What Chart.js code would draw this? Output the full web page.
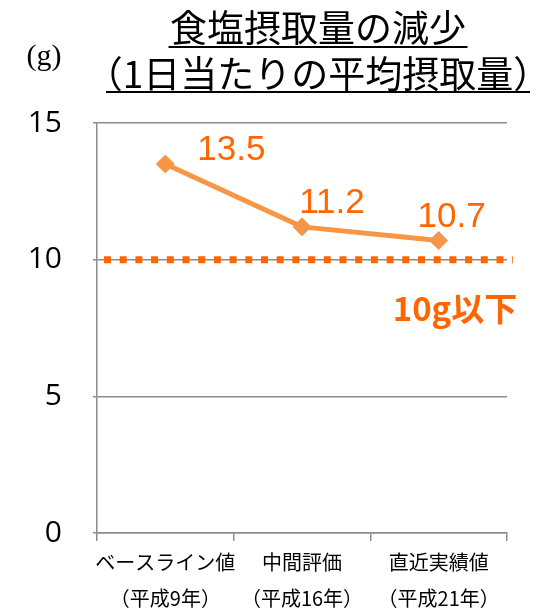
<!DOCTYPE html>
<html>
<head>
<meta charset="utf-8">
<script src="https://cdn.jsdelivr.net/npm/chart.js@4.4.1/dist/chart.umd.min.js"></script>
<style>
  body { margin: 0; background: #fff; }
  #wrap { width: 547px; height: 608px; }
</style>
</head>
<body>
<div id="wrap"><canvas id="salt_chart" width="547" height="608"></canvas></div>
<script>
// data
var categories = [
  ["ベースライン値", "（平成9年）"],
  ["中間評価", "（平成16年）"],
  ["直近実績値", "（平成21年）"],
];
var saltIntake = [13.5, 11.2, 10.7];
var targetValue = 10;
var targetLabel = "10g以下";
var yTicks = [0, 5, 10, 15];
var titleLines = ["食塩摂取量の減少", "（1日当たりの平均摂取量）"];
var unitLabel = "(g)";

var lineColor = "#F79646";
var labelColor = "#FF6600";
var gridColor = "#8c8c8c";

// offsets of the value labels from their points
var labelOffsets = [
  [66, -14],
  [30, -24],
  [13, -23],
];

var decorPlugin = {
  id: "decor",
  beforeDatasetsDraw: function (chart) {
    var ctx = chart.ctx;
    var area = chart.chartArea;
    var y = chart.scales.y.getPixelForValue(targetValue);
    ctx.save();
    ctx.strokeStyle = labelColor;
    ctx.lineWidth = 7;
    ctx.setLineDash([7, 8.7]);
    ctx.beginPath();
    ctx.moveTo(area.left + 7, y);
    ctx.lineTo(area.right + 6, y);
    ctx.stroke();
    ctx.restore();
  },
  afterDatasetsDraw: function (chart) {
    var ctx = chart.ctx;
    var meta = chart.getDatasetMeta(0);
    ctx.save();
    ctx.fillStyle = labelColor;
    ctx.font = "35px 'Liberation Sans', Arial, sans-serif";
    ctx.textAlign = "center";
    ctx.textBaseline = "middle";
    meta.data.forEach(function (pt, i) {
      ctx.fillText(
        saltIntake[i].toFixed(1),
        pt.x + labelOffsets[i][0],
        pt.y + labelOffsets[i][1]
      );
    });
    ctx.restore();
  },
  afterDraw: function (chart) {
    var ctx = chart.ctx;
    var area = chart.chartArea;
    ctx.save();
    // title with underline
    ctx.fillStyle = "#000";
    ctx.strokeStyle = "#000";
    ctx.lineWidth = 2;
    ctx.textAlign = "center";
    ctx.textBaseline = "middle";
    ctx.font = "37px 'Noto Sans CJK JP', sans-serif";
    var cx = 318;
    var ys = [28, 74];
    var ulines = [47, 92];
    var ulWidth = [299, 424];
    titleLines.forEach(function (t, i) {
      ctx.fillText(t, cx, ys[i]);
      ctx.beginPath();
      ctx.moveTo(cx - ulWidth[i] / 2, ulines[i]);
      ctx.lineTo(cx + ulWidth[i] / 2, ulines[i]);
      ctx.stroke();
    });
    // unit
    ctx.font = "30px 'Liberation Serif', serif";
    ctx.fillText(unitLabel, 44, 57);
    // target label
    var y = chart.scales.y.getPixelForValue(targetValue);
    ctx.fillStyle = labelColor;
    ctx.font = "bold 33px 'Noto Sans CJK JP', sans-serif";
    ctx.fillText(targetLabel, area.right - 52, y + 49);
    ctx.restore();
  },
};

var ctx = document.getElementById("salt_chart").getContext("2d");
var myChart = new Chart(ctx, {
  type: "line",
  data: {
    labels: categories,
    datasets: [
      {
        label: "食塩摂取量",
        data: saltIntake,
        borderColor: lineColor,
        backgroundColor: lineColor,
        borderWidth: 5,
        pointStyle: "rectRot",
        pointRadius: 9,
        pointBorderWidth: 1,
        pointBackgroundColor: lineColor,
        pointBorderColor: lineColor,
        tension: 0,
      },
    ],
  },
  options: {
    responsive: false,
    animation: false,
    layout: { padding: { top: 123, right: 40, left: 0, bottom: 0 } },
    plugins: {
      legend: { display: false },
      tooltip: { enabled: false },
      title: { display: false },
    },
    scales: {
      x: {
        offset: true,
        grid: {
          offset: true,
          drawOnChartArea: false,
          drawTicks: true,
          tickLength: 8,
          color: gridColor,
          lineWidth: 1.5,
        },
        border: { display: true, color: gridColor, width: 1.5 },
        ticks: {
          color: "#000",
          font: { family: "'Noto Sans CJK JP', sans-serif", size: 20, lineHeight: 1.8 },
          maxRotation: 0,
          autoSkip: false,
          padding: 3,
        },
        afterFit: function (scale) {
          scale.height = 75;
        },
      },
      y: {
        min: 0,
        max: 15,
        afterBuildTicks: function (scale) {
          scale.ticks = yTicks.map(function (v) { return { value: v }; });
        },
        grid: {
          color: gridColor,
          lineWidth: 1.5,
          tickLength: 4,
        },
        border: { display: true, color: gridColor, width: 1.5 },
        ticks: {
          color: "#000",
          font: { family: "'Open Sans', sans-serif", size: 30 },
          padding: 31,
        },
        afterFit: function (scale) {
          scale.width = 97;
        },
      },
    },
  },
  plugins: [decorPlugin],
});
</script>
</body>
</html>
